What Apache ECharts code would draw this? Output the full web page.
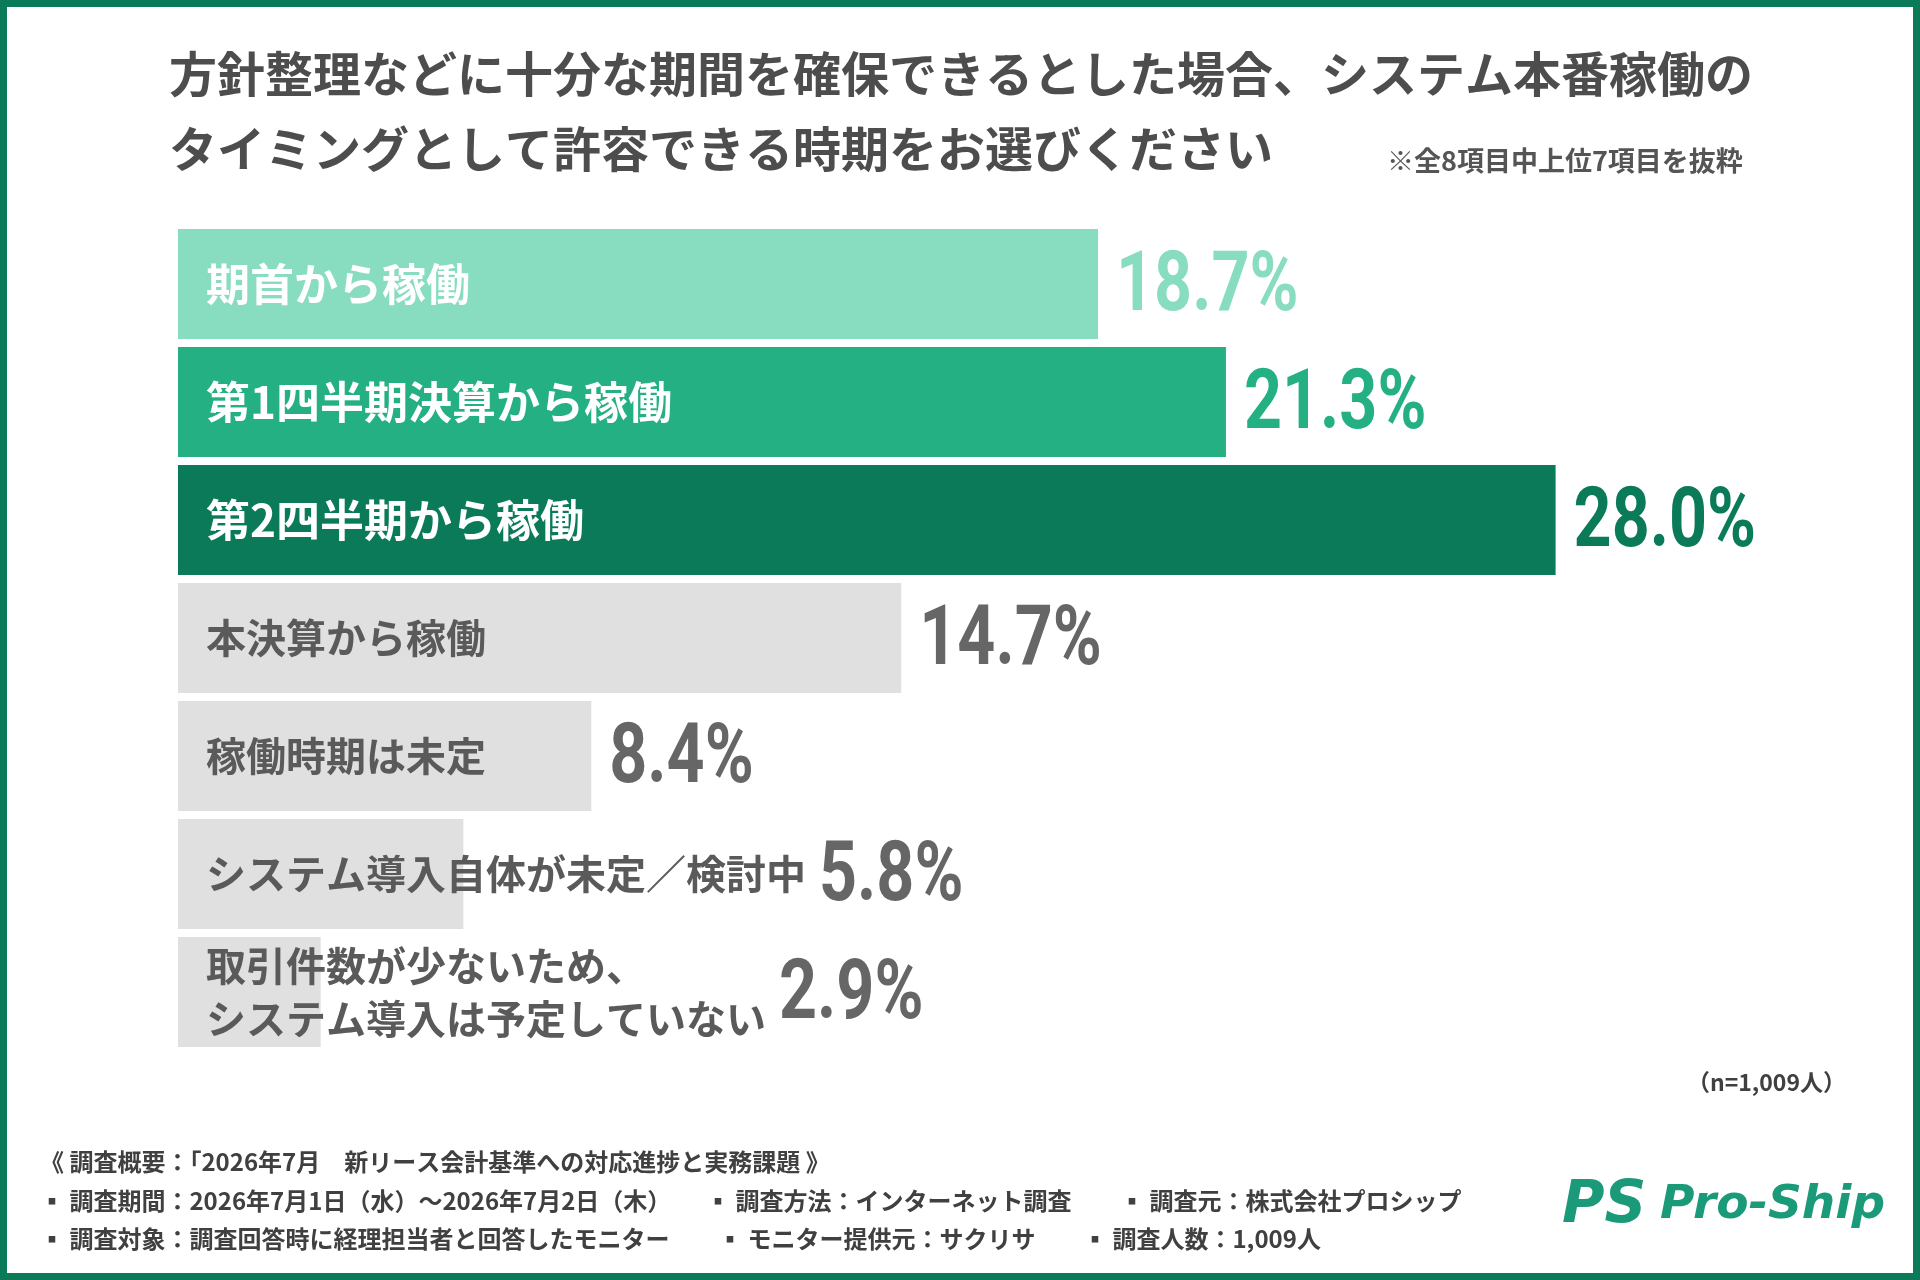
<!DOCTYPE html>
<html>
<head>
<meta charset="utf-8">
<title>稼働時期</title>
<script src="https://cdn.jsdelivr.net/npm/echarts@6/dist/echarts.min.js"></script>
<style>
  html, body { margin: 0; padding: 0; background: #fff; }
  #chart { width: 1920px; height: 1280px; }
</style>
</head>
<body>
<div id="chart"></div>
<script>
// データ
var categories = [
  '期首から稼働',
  '第1四半期決算から稼働',
  '第2四半期から稼働',
  '本決算から稼働',
  '稼働時期は未定',
  'システム導入自体が未定／検討中',
  '取引件数が少ないため、\nシステム導入は予定していない'
];
var values = [18.7, 21.3, 28.0, 14.7, 8.4, 5.8, 2.9];

// 色
var barColors = ['#88dcc0', '#24b083', '#0b7a58', '#e0e0e0', '#e0e0e0', '#e0e0e0', '#e0e0e0'];
var valueColors = ['#88dcc0', '#24b083', '#0b7a58', '#666666', '#666666', '#666666', '#666666'];
var nameOnBar = [true, true, true, false, false, false, false]; // 白文字かどうか

var JP = '"Noto Sans CJK JP", "Noto Sans", sans-serif';
var NUM = 'Roboto, "DejaVu Sans", sans-serif';
var NAME_PAD = 28;   // バー左端からラベルまで
var VAL_GAP = 18;    // 数値ラベルの間隔
var TEXT_GAP = 13;   // はみ出した項目名の後ろ

// ラベル幅を測っておく（はみ出す項目用）
var ctx = document.createElement('canvas').getContext('2d');
var nameWidths = categories.map(function(c, i) {
  ctx.font = 'bold ' + (nameOnBar[i] ? 44 : 40) + 'px ' + JP;
  var w = 0;
  c.split('\n').forEach(function(s) { w = Math.max(w, ctx.measureText(s).width); });
  return w;
});

var chart = echarts.init(document.getElementById('chart'));

var barData = [];
var labelData = [];
for (var i = 0; i < values.length; i++) {
  barData.push({ value: values[i], itemStyle: { color: barColors[i] } });
  labelData.push([values[i], i]);
}

function footer(text, x, y) {
  return {
    type: 'text', left: x, top: y,
    style: { text: text, font: 'bold 24px ' + JP, fill: '#404040' }
  };
}

chart.setOption({
  backgroundColor: '#fff',
  animation: false,
  grid: { left: 178, right: 266, top: 225, bottom: 229 },
  xAxis: {
    type: 'value', min: 0, max: 30, show: false
  },
  yAxis: {
    type: 'category',
    inverse: true,
    data: categories,
    z: 10,
    axisLine: { show: false },
    axisTick: { show: false },
    splitLine: { show: false },
    axisLabel: {
      inside: true,
      margin: NAME_PAD,
      formatter: function(value, idx) {
        var key = nameOnBar[idx] ? 'w' : 'g';
        return value.split('\n').map(function(s) {
          return '{' + key + '|' + s + '}';
        }).join('\n');
      },
      rich: {
        w: { color: '#fff', fontSize: 44, fontWeight: 'bold', fontFamily: JP, lineHeight: 53 },
        g: { color: '#5a5a5a', fontSize: 40, fontWeight: 'bold', fontFamily: JP, lineHeight: 53 }
      }
    }
  },
  series: [
    {
      type: 'bar',
      barWidth: 110,
      data: barData
    },
    {
      // 数値ラベル（横を詰めた数字）
      type: 'custom',
      data: labelData,
      encode: { x: 0, y: 1 },
      z: 5,
      renderItem: function(params, api) {
        var idx = api.value(1);
        var v = api.value(0);
        var end = api.coord([v, idx]);
        var start = api.coord([0, idx]);
        var x = Math.max(end[0] + VAL_GAP, start[0] + NAME_PAD + nameWidths[idx] + TEXT_GAP);
        return {
          type: 'text',
          x: x,
          y: end[1] + 5,
          scaleX: 0.79,
          style: {
            text: v.toFixed(1) + '%',
            fill: valueColors[idx],
            font: 'bold 84px ' + NUM,
            align: 'left',
            verticalAlign: 'middle',
            textAlign: 'left',
            textVerticalAlign: 'middle'
          }
        };
      }
    }
  ],
  graphic: [
    {
      type: 'rect', left: 0, top: 0, z: 100, silent: true,
      shape: { x: 3.5, y: 3.5, width: 1913, height: 1273 },
      style: { fill: 'none', stroke: '#0b7a58', lineWidth: 7 }
    },
    {
      type: 'text', left: 169, top: 36,
      style: {
        text: '方針整理などに十分な期間を確保できるとした場合、システム本番稼働の\nタイミングとして許容できる時期をお選びください',
        font: 'bold 48px ' + JP, fill: '#4d4d4d', lineHeight: 75
      }
    },
    {
      type: 'text', left: 1387, top: 147,
      style: { text: '※全8項目中上位7項目を抜粋', font: 'bold 27px ' + JP, fill: '#555' }
    },
    {
      type: 'text', right: 74, top: 1071,
      style: { text: '（n=1,009人）', font: 'bold 23px ' + JP, fill: '#404040' }
    },
    footer('《 調査概要：「2026年7月　新リース会計基準への対応進捗と実務課題 》', 40, 1150),
    footer('▪ 調査期間：2026年7月1日（水）～2026年7月2日（木）', 40, 1189),
    footer('▪ 調査方法：インターネット調査', 706, 1189),
    footer('▪ 調査元：株式会社プロシップ', 1120, 1189),
    footer('▪ 調査対象：調査回答時に経理担当者と回答したモニター', 40, 1227),
    footer('▪ モニター提供元：サクリサ', 718, 1227),
    footer('▪ 調査人数：1,009人', 1083, 1227),
    {
      type: 'text', left: 1562, top: 1178,
      style: { text: 'PS', font: 'italic bold 58px "DejaVu Sans", sans-serif', fill: '#1a9a78' }
    },
    {
      type: 'text', left: 1660, top: 1182,
      style: { text: 'Pro-Ship', font: 'italic bold 47px "DejaVu Sans", sans-serif', fill: '#1a9a78' }
    }
  ]
});
</script>
</body>
</html>
